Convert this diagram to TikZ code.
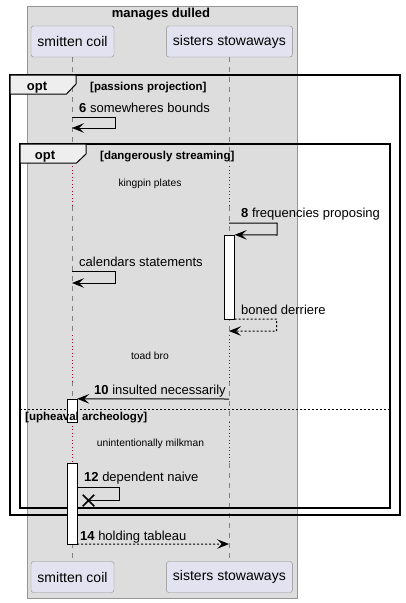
\documentclass[tikz,border=0pt]{standalone}
\usepackage{fontspec}
\setmainfont{Liberation Sans}
\usetikzlibrary{arrows.meta,positioning,shapes.misc}
\definecolor{groupgrey}{HTML}{DDDDDD}
\definecolor{groupdraw}{HTML}{959595}
\definecolor{partfill}{HTML}{E2E2F0}
\definecolor{partdraw}{HTML}{8C8C8C}
\definecolor{lifegrey}{HTML}{808080}
\definecolor{delayred}{HTML}{A80036}
\definecolor{tabgrey}{HTML}{EEEEEE}
\begin{document}
\begin{tikzpicture}[x=1pt,y=-1pt,
partnode/.style={rectangle, rounded corners=2.5pt, draw=partdraw, fill=partfill, inner sep=0pt, minimum height=31pt, font=\fontsize{14}{16}\selectfont},
lifeline/.style={draw=lifegrey, dash pattern=on 5pt off 5pt},
delayline/.style={draw=delayred, dash pattern=on 1pt off 2.5pt},
actbox/.style={rectangle, draw=black, fill=white, inner sep=0pt, minimum width=10pt},
msgarrow/.style={draw=black, line width=1pt, -{Stealth[length=12pt,width=9.5pt,inset=5pt]}},
retarrow/.style={msgarrow, dash pattern=on 2pt off 2pt},
msgtext/.style={anchor=base west, inner sep=0pt, font=\fontsize{13}{15}\selectfont},
delaytext/.style={inner sep=0pt, font=\fontsize{10.3}{12}\selectfont},
guardtext/.style={anchor=base west, inner sep=0pt, font=\bfseries\fontsize{11.5}{13}\selectfont},
optlabel/.style={anchor=base, inner sep=0pt, font=\bfseries\fontsize{13}{15}\selectfont},
optframe/.style={draw=black, line width=1.5pt},
opttab/.style={draw=black, line width=1pt, fill=tabgrey},
]
    \useasboundingbox (0,0) rectangle (405,603);
    \draw[draw=groupdraw, fill=groupgrey] (27,6) rectangle (297,598);
    \node[font=\bfseries\fontsize{13}{15}\selectfont] (grouptitle) at (161,14) {manages dulled};

    \node[partnode, minimum width=83pt] (coiltop) at (72.5,41.5) {smitten coil};
    \node[partnode, minimum width=126pt] (stowtop) [right=52pt of coiltop] {sisters stowaways};
    \node[partnode, minimum width=83pt] (coilbot) at (72.5,577) {smitten coil};
    \node[partnode, minimum width=126pt] (stowbot) [right=52pt of coilbot] {sisters stowaways};

    \foreach \ya/\yb in {57/166,206/335,381/422,463/561}
      \draw[lifeline] (72,\ya) -- (72,\yb) (229,\ya) -- (229,\yb);
    \foreach \ya/\yb in {166/206,335/381,422/463}
      \draw[delayline] (72,\ya) -- (72,\yb) (229,\ya) -- (229,\yb);

    \draw[optframe] (10,75) rectangle (400,515);
    \draw[opttab] (10,75) -- (76,75) -- (76,84) -- (66.5,94) -- (10,94) -- cycle;
    \node[optlabel] (opt1) at (37,90.5) {opt};
    \node[guardtext] (guard1) at (90,90) {[passions projection]};

    \draw[optframe] (20,144) rectangle (390,508);
    \draw[opttab] (20,144) -- (86,144) -- (86,154) -- (76.5,163) -- (20,163) -- cycle;
    \node[optlabel] (opt2) at (45,159) {opt};
    \node[guardtext] (guard2) at (100,159) {[dangerously streaming]};

    \draw[dash pattern=on 2pt off 2pt] (20,409) -- (390,409);

    \node[actbox, minimum height=84pt] (act1) at (229.5,277) {};
    \node[actbox, minimum height=23pt] (act2) at (72,410.5) {};
    \node[actbox, minimum height=81pt] (act3) at (72,503.5) {};
    \node[guardtext] (guard3) at (25,420) {[upheaval archeology]};

    \coordinate (m6from) at (72,117);
    \coordinate (m6to) at (72,128);
    \coordinate (m8from) at (229,223);
    \coordinate (m9from) at (72,271);
    \coordinate (m9to) at (72,283);
    \coordinate (m10to) at (229,331);
    \coordinate (m11from) at (229,399);
    \coordinate (m12from) at (77,487);
    \coordinate (m14to) at (229,544);
    \node[draw, cross out, line width=1.5pt, minimum size=10pt, inner sep=0pt] (lost12) at (88.5,500.5) {};

    \draw[msgarrow] (m6from) -- ++(43,0) -- ++(0,11) -- (m6to);
    \draw[msgarrow] (m8from) -- ++(48,0) -- ++(0,12) -- (act1.north east);
    \draw[msgarrow] (m9from) -- ++(43,0) -- ++(0,12) -- (m9to);
    \draw[retarrow] (act1.south east) -- ++(42,0) -- ++(0,12) -- (m10to);
    \draw[msgarrow] (m11from) -- (act2.north east);
    \draw[line width=1pt] (m12from) -- ++(42,0) -- ++(0,13.5) -- (lost12.center);
    \draw[retarrow] (act3.south east) -- (m14to);

    \node[msgtext] (t6) at (79,112) {\textbf{6} somewheres bounds};
    \node[delaytext] (d7) at (150,184) {kingpin plates};
    \node[msgtext] (t8) at (241,217) {\textbf{8} frequencies proposing};
    \node[msgtext] (t9) at (79,266) {calendars statements};
    \node[msgtext] (t10) at (241,314) {boned derriere};
    \node[delaytext] (d10) at (150,356) {toad bro};
    \node[msgtext] (t11) at (94,394) {\textbf{10} insulted necessarily};
    \node[delaytext] (d11) at (150.5,444) {unintentionally milkman};
    \node[msgtext] (t12) at (84,481.5) {\textbf{12} dependent naive};
    \node[msgtext] (t14) at (80,540) {\textbf{14} holding tableau};
\end{tikzpicture}
\end{document}
